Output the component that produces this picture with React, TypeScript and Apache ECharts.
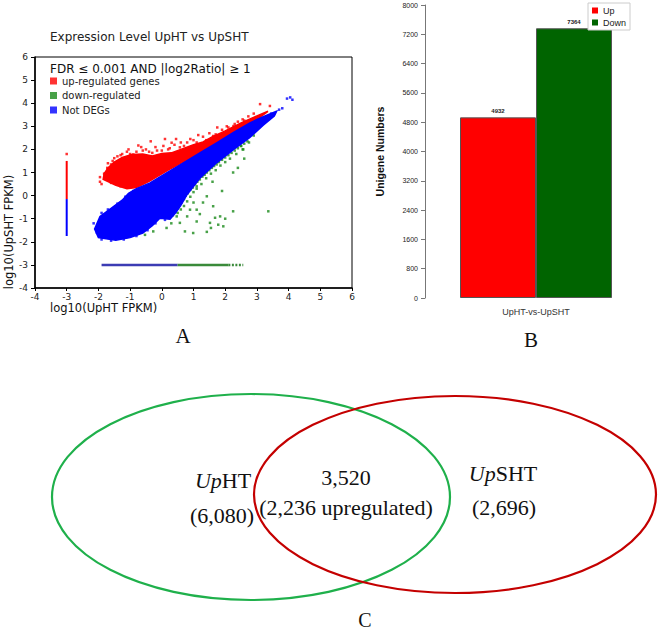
import React, { useEffect, useRef } from 'react';
import * as echarts from 'echarts';

// ---------- Panel A: scatter (log10 FPKM) ----------
const scatterTitle = 'Expression Level UpHT vs UpSHT';
const scatterNote = 'FDR \u2264 0.001 AND |log2Ratio| \u2265 1';
const scatterLegend = ['up-regulated genes', 'down-regulated', 'Not DEGs'];

// dense clouds (outline of the densest area, data coords)
const redCloud: number[][] = [
  [-1.85, 0.7], [-1.82, 0.95], [-1.7, 1.2], [-1.5, 1.45], [-1.25, 1.65], [-0.95, 1.78],
  [-0.6, 1.8], [-0.3, 1.72], [0.0, 1.82], [0.3, 1.85], [0.6, 2.0], [1.0, 2.2],
  [1.3, 2.32], [1.6, 2.55], [2.0, 2.8], [2.5, 3.15], [3.0, 3.45], [3.35, 3.65],
  [3.1, 3.4], [2.6, 3.0], [2.0, 2.5], [1.4, 2.0], [0.8, 1.55], [0.2, 1.1],
  [-0.4, 0.62], [-0.8, 0.35], [-1.1, 0.3], [-1.45, 0.45], [-1.85, 0.7],
];
const blueCloud: number[][] = [
  [3.62, 3.65], [3.2, 3.42], [2.78, 3.15], [2.25, 2.72], [1.73, 2.28], [1.2, 1.85],
  [0.68, 1.42], [0.15, 0.98], [-0.37, 0.55], [-0.8, 0.3], [-1.05, 0.1], [-1.25, -0.2],
  [-1.6, -0.55], [-1.95, -0.9], [-2.12, -1.45], [-2.0, -1.82], [-1.45, -1.93], [-1.0, -1.82],
  [-0.6, -1.62], [-0.3, -1.3], [-0.06, -0.98], [0.26, -1.02], [0.45, -0.72], [0.6, -0.42],
  [0.8, 0.05], [1.2, 0.75], [1.73, 1.42], [2.25, 1.98], [2.78, 2.52], [3.2, 3.05],
  [3.55, 3.45], [3.62, 3.65],
];
// sparse points around the clouds
const upPoints: number[][] = [
  [-0.9, 1.78], [-0.74, 2.17], [0.31, 2.29], [0.57, 2.09], [1.62, 2.58], [2.05, 3.0],
  [2.26, 3.01], [2.73, 3.43], [3.1, 3.96], [3.41, 3.88], [-1.3, 1.75], [-1.55, 1.5],
  [-0.5, 2.0], [-0.2, 2.1], [0.0, 1.95], [0.8, 2.3], [1.0, 2.4], [1.3, 2.55],
  [1.9, 2.85], [2.4, 3.2], [-1.1, 1.9], [0.45, 2.45], [-0.6, 1.95], [2.9, 3.55],
  [-1.82, 0.95], [-1.72, 1.2], [-1.95, 0.8], [-1.4, 1.7], [0.2, 2.0], [1.15, 2.62],
  [-0.3, 1.85], [0.7, 2.15], [1.75, 2.95], [2.55, 3.3], [-1.0, 1.8], [-1.6, 1.35],
  [-1.7, 1.4], [-1.5, 1.62], [-1.25, 1.8], [-1.05, 2.0], [-0.8, 1.9], [-0.65, 2.1],
  [-0.4, 1.9], [-0.15, 1.95], [0.05, 2.15], [0.25, 2.05], [0.4, 2.2], [0.6, 2.3],
  [0.9, 2.45], [1.1, 2.3], [1.4, 2.4], [1.5, 2.7], [1.7, 2.65], [2.1, 2.95],
  [2.3, 3.1], [2.6, 3.25], [-0.35, 2.35], [0.1, 2.45], [-1.95, 0.6], [-1.9, 0.5],
  [-1.6, 0.55], [-1.3, 0.4], [-1.0, 0.35], [-3.0, 1.8],
];
const downPoints: number[][] = [
  [0.35, -0.85], [0.42, -0.7], [0.5, -0.55], [0.55, -0.4], [0.62, -0.3], [0.7, -0.15],
  [0.75, 0.0], [0.82, 0.1], [0.9, 0.25], [0.98, 0.35], [1.05, 0.5], [1.12, 0.6],
  [1.2, 0.7], [1.28, 0.82], [1.35, 0.9], [1.42, 1.0], [1.5, 1.1], [1.58, 1.2],
  [1.65, 1.28], [1.73, 1.35], [1.8, 1.45], [1.9, 1.55], [2.0, 1.65], [2.1, 1.75],
  [2.2, 1.85], [2.3, 1.95], [2.4, 2.05], [2.5, 2.15], [2.6, 2.25], [2.7, 2.35],
  [0.5, -0.75], [0.6, -0.6], [0.7, -0.45], [0.8, -0.25], [0.9, -0.05], [1.0, 0.15],
  [1.1, 0.3], [1.25, 0.5], [1.4, 0.75], [1.55, 0.95], [1.7, 1.1], [1.85, 1.3],
  [2.0, 1.45], [2.15, 1.6], [2.35, 1.8], [2.55, 2.0], [2.25, 1.0], [2.57, 2.0],
  [1.62, -0.46], [2.25, -0.68], [3.36, -0.68], [1.94, -1.33], [0.99, -1.62], [1.42, -1.57],
  [0.73, -1.55], [-0.27, -1.55], [-0.53, -1.7], [0.15, -1.4], [0.57, -1.18], [1.1, -1.12],
  [1.52, -1.18], [1.78, -1.26], [1.68, -0.96], [1.84, -0.9], [0.89, -0.61], [1.1, -0.61],
  [0.47, -0.9], [1.42, -0.03], [1.1, 0.4], [1.3, -0.3], [0.8, -0.9], [1.2, -0.8],
  [2.0, -1.0], [0.3, -1.2], [1.55, -1.4], [1.9, 0.2], [2.6, 1.6], [2.9, 2.6],
  [2.4, 1.2], [1.6, 0.6], [1.0, -0.3], [2.3, 2.15], [2.5, 2.15], [2.75, 2.3],
];
const notDegPoints: number[][] = [
  [3.95, 4.2], [4.05, 4.25], [4.12, 4.15], [3.7, 3.72], [3.8, 3.78], [3.45, 3.55],
  [-2.15, -1.2], [-2.05, -1.6], [-1.9, -1.9], [-1.6, -1.95], [-1.2, -1.9], [-0.8, -1.75],
  [-1.9, -0.75], [-1.7, -0.6], [-1.4, -0.35], [-1.15, -0.05], [-0.9, 0.2], [0.1, -1.05],
  [-0.2, -1.2], [-0.45, -1.5],
];
// constant-value strips
const vStripUp: number[][] = [[-3.0, 1.5], [-3.0, -0.15]];
const vStripNot: number[][] = [[-3.0, -0.15], [-3.0, -1.75]];
const hStripNot: number[][] = [[-1.9, -3.0], [0.5, -3.0]];
const hStripDown: number[][] = [[0.5, -3.0], [2.1, -3.0]];
const hStripDownDots: number[][] = [[2.1, -3.0], [2.57, -3.0]];

// ---------- Panel B: bar chart ----------
const barCategories = ['UpHT-vs-UpSHT'];
const upCounts = [4932];
const downCounts = [7364];

// ---------- Panel C: Venn ----------
const vennLeftName = 'UpHT';
const vennRightName = 'UpSHT';
const vennLeftOnly = '6,080';
const vennShared = '3,520';
const vennSharedUp = '2,236';
const vennRightOnly = '2,696';
const panelLabels = ['A', 'B', 'C'];

export default function App() {
  const ref = useRef<HTMLDivElement>(null);
  useEffect(() => {
    document.body.style.margin = '0';
    const chart = echarts.init(ref.current!, null, { renderer: 'svg' });
    const polygon = (pts: number[][], color: string) => (params: any, api: any) => {
      if (params.dataIndex !== 0) return null;
      return {
        type: 'polygon',
        shape: { points: pts.map((p) => api.coord(p)) },
        style: { fill: color, stroke: color, lineWidth: 1.5 },
      };
    };
    const sans = 'DejaVu Sans';
    const serif = 'Liberation Serif';
    const option: any = {
      animation: false,
      backgroundColor: '#fff',
      grid: [
        { left: 35, top: 57, width: 317, height: 231, show: true, borderColor: '#000', borderWidth: 1, backgroundColor: 'transparent' },
        { left: 425, top: 5, width: 222, height: 293 },
      ],
      xAxis: [
        {
          gridIndex: 0, type: 'value', min: -4, max: 6, interval: 1,
          axisLine: { show: true, onZero: false, lineStyle: { color: '#000', width: 1.5 } },
          axisTick: { show: true, length: 3, lineStyle: { color: '#000' } },
          axisLabel: { fontFamily: sans, fontSize: 9, color: '#222', margin: 4 },
          splitLine: { show: false },
        },
        {
          gridIndex: 1, type: 'category', data: barCategories,
          axisLine: { show: false }, axisTick: { show: false },
          axisLabel: { fontFamily: 'Liberation Sans', fontSize: 9, color: '#333', margin: 9 },
        },
      ],
      yAxis: [
        {
          gridIndex: 0, type: 'value', min: -4, max: 6, interval: 1,
          axisLine: { show: true, onZero: false, lineStyle: { color: '#000', width: 1.5 } },
          axisTick: { show: true, length: 4, lineStyle: { color: '#000' } },
          axisLabel: { fontFamily: sans, fontSize: 9, color: '#222', margin: 7 },
          splitLine: { show: false },
        },
        {
          gridIndex: 1, type: 'value', min: 0, max: 8000, interval: 800,
          name: 'Unigene Numbers', nameLocation: 'middle', nameGap: 40,
          nameTextStyle: { fontFamily: 'Liberation Sans', fontSize: 10.5, fontWeight: 'bold', color: '#111' },
          axisLine: { show: true, lineStyle: { color: '#777' } },
          axisTick: { show: true, length: 4, lineStyle: { color: '#777' } },
          axisLabel: { fontFamily: 'Liberation Sans', fontSize: 7, color: '#222', margin: 7, formatter: (v: number) => String(v) },
          splitLine: { show: false },
        },
      ],
      legend: [
        {
          data: scatterLegend, left: 50, top: 76, orient: 'vertical', padding: 0,
          itemWidth: 7, itemHeight: 7, itemGap: 4.5, icon: 'rect', selectedMode: false,
          itemStyle: { borderWidth: 0 },
          textStyle: { fontFamily: sans, fontSize: 10, color: '#222' },
        },
        {
          data: ['Up', 'Down'], left: 588, top: 3, orient: 'vertical', padding: [3, 4],
          itemWidth: 6, itemHeight: 6, itemGap: 3, icon: 'rect', selectedMode: false,
          itemStyle: { borderWidth: 0 },
          borderColor: '#ccc', borderWidth: 1, backgroundColor: '#fff',
          textStyle: { fontFamily: 'Liberation Sans', fontSize: 9, color: '#222' },
        },
      ],
      series: [
        { type: 'custom', name: 'upCloud', xAxisIndex: 0, yAxisIndex: 0, data: [redCloud[0]], renderItem: polygon(redCloud, '#ff0000'), silent: true, z: 1 },
        { type: 'scatter', name: scatterLegend[1], xAxisIndex: 0, yAxisIndex: 0, data: downPoints, symbol: 'rect', symbolSize: 2.5, itemStyle: { color: '#1a8a1a' }, silent: true, z: 2 },
        { type: 'custom', name: 'notCloud', xAxisIndex: 0, yAxisIndex: 0, data: [blueCloud[0]], renderItem: polygon(blueCloud, '#0000ff'), silent: true, z: 3 },
        { type: 'scatter', name: scatterLegend[2], xAxisIndex: 0, yAxisIndex: 0, data: notDegPoints, symbol: 'rect', symbolSize: 2.5, itemStyle: { color: '#0000ff' }, silent: true, z: 4 },
        { type: 'scatter', name: scatterLegend[0], xAxisIndex: 0, yAxisIndex: 0, data: upPoints, symbol: 'rect', symbolSize: 2.5, itemStyle: { color: '#ff0000' }, silent: true, z: 5 },
        { type: 'line', name: 'vUp', xAxisIndex: 0, yAxisIndex: 0, data: vStripUp, showSymbol: false, lineStyle: { color: '#ff0000', width: 2 }, silent: true, z: 5 },
        { type: 'line', name: 'vNot', xAxisIndex: 0, yAxisIndex: 0, data: vStripNot, showSymbol: false, lineStyle: { color: '#0000ff', width: 2 }, silent: true, z: 5 },
        { type: 'line', name: 'hNot', xAxisIndex: 0, yAxisIndex: 0, data: hStripNot, showSymbol: false, lineStyle: { color: '#3c3cb4', width: 2.5 }, silent: true, z: 5 },
        { type: 'line', name: 'hDown', xAxisIndex: 0, yAxisIndex: 0, data: hStripDown, showSymbol: false, lineStyle: { color: '#3a8a3a', width: 2.5 }, silent: true, z: 5 },
        { type: 'line', name: 'hDownDots', xAxisIndex: 0, yAxisIndex: 0, data: hStripDownDots, showSymbol: false, lineStyle: { color: '#3a8a3a', width: 2.5, type: [2, 1.5] }, silent: true, z: 5 },
        {
          type: 'bar', name: 'Up', xAxisIndex: 1, yAxisIndex: 1, data: upCounts, barWidth: 76, barGap: '0%',
          itemStyle: { color: '#ff0000', borderColor: '#555', borderWidth: 1 },
          label: { show: true, position: 'top', distance: 3, fontFamily: 'Liberation Sans', fontSize: 6, fontWeight: 'bold', color: '#222' },
          silent: true,
        },
        {
          type: 'bar', name: 'Down', xAxisIndex: 1, yAxisIndex: 1, data: downCounts, barWidth: 76, barGap: '0%',
          itemStyle: { color: '#006400', borderColor: '#555', borderWidth: 1 },
          label: { show: true, position: 'top', distance: 3, fontFamily: 'Liberation Sans', fontSize: 6, fontWeight: 'bold', color: '#222' },
          silent: true,
        },
      ],
      graphic: [
        { type: 'text', left: 50, top: 31, style: { text: scatterTitle, font: `12px "${sans}"`, fill: '#222' } },
        { type: 'text', left: 50, top: 63, style: { text: scatterNote, font: `12px "${sans}"`, fill: '#111' } },
        { type: 'text', left: 50, top: 302, style: { text: 'log10(UpHT FPKM)', font: `11.5px "${sans}"`, fill: '#111' } },
        { type: 'text', x: 9, y: 232, rotation: Math.PI / 2, style: { text: 'log10(UpSHT FPKM)', font: `11.5px "${sans}"`, fill: '#111', align: 'center', verticalAlign: 'middle' } },
        { type: 'text', x: 183, y: 336, style: { text: panelLabels[0], font: `21px "${serif}"`, fill: '#111', align: 'center', verticalAlign: 'middle' } },
        { type: 'text', x: 531, y: 340, style: { text: panelLabels[1], font: `21px "${serif}"`, fill: '#111', align: 'center', verticalAlign: 'middle' } },
        { type: 'text', x: 365, y: 620, style: { text: panelLabels[2], font: `20px "${serif}"`, fill: '#111', align: 'center', verticalAlign: 'middle' } },
        { type: 'ellipse', shape: { cx: 251, cy: 497, rx: 199, ry: 103 }, style: { fill: 'none', stroke: '#1fb04b', lineWidth: 2.2 } },
        { type: 'ellipse', shape: { cx: 455, cy: 494.5, rx: 201, ry: 98.5 }, style: { fill: 'none', stroke: '#c40000', lineWidth: 2.2 } },
        {
          type: 'text', x: 223, y: 480,
          style: { text: `{i|Up}${vennLeftName.slice(2)}`, font: `22px "${serif}"`, fill: '#111', align: 'center', verticalAlign: 'middle', rich: { i: { fontStyle: 'italic', fontFamily: serif, fontSize: 22 } } },
        },
        { type: 'text', x: 222, y: 515, style: { text: `(${vennLeftOnly})`, font: `22px "${serif}"`, fill: '#111', align: 'center', verticalAlign: 'middle' } },
        { type: 'text', x: 346, y: 477, style: { text: vennShared, font: `22px "${serif}"`, fill: '#111', align: 'center', verticalAlign: 'middle' } },
        { type: 'text', x: 346, y: 507, style: { text: `(${vennSharedUp} upregulated)`, font: `22px "${serif}"`, fill: '#111', align: 'center', verticalAlign: 'middle' } },
        {
          type: 'text', x: 503, y: 473,
          style: { text: `{i|Up}${vennRightName.slice(2)}`, font: `22px "${serif}"`, fill: '#111', align: 'center', verticalAlign: 'middle', rich: { i: { fontStyle: 'italic', fontFamily: serif, fontSize: 22 } } },
        },
        { type: 'text', x: 504, y: 507, style: { text: `(${vennRightOnly})`, font: `22px "${serif}"`, fill: '#111', align: 'center', verticalAlign: 'middle' } },
      ],
    };
    chart.setOption(option);
    return () => chart.dispose();
  }, []);
  return <div ref={ref} style={{ width: 660, height: 631 }} />;
}
